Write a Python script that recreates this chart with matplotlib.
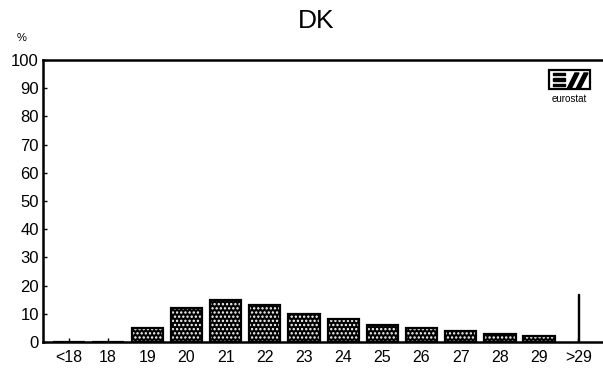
import matplotlib
matplotlib.use("Agg")
import matplotlib.pyplot as plt
from matplotlib.patches import Polygon

categories = ["<18", "18", "19", "20", "21", "22", "23", "24", "25", "26", "27", "28", "29", ">29"]
values = [0, 0, 5, 12, 15, 13, 10, 8, 6, 5, 4, 3, 2, 17]
widths = [0.8] * 13 + [0.04]
yticks = [0, 10, 20, 30, 40, 50, 60, 70, 80, 90, 100]

plt.rcParams['font.family'] = ['Liberation Sans', 'DejaVu Sans']
W, H = 603, 372
fig = plt.figure(figsize=(W / 100, H / 100), dpi=100)
ax = fig.add_axes([43 / W, 1 - 342 / H, (603 - 43) / W, (342 - 60) / H])

x = list(range(len(categories)))
plt.rcParams['hatch.linewidth'] = 1.1
ax.bar(x[:13], values[:13], width=widths[:13], color='black', edgecolor='white',
       hatch='....', linewidth=0)
ax.bar(x[:13], values[:13], width=widths[:13], fill=False, edgecolor='black', linewidth=1.6)
ax.bar(x[13:], values[13:], width=widths[13:], color='black', edgecolor='black', linewidth=1)

ax.set_xlim(-0.66, 13.63)
ax.set_ylim(0, 100)
ax.set_xticks(x)
ax.set_xticklabels(categories, fontsize=11.5)
ax.set_yticks(yticks)
ax.set_yticklabels([str(v) for v in yticks], fontsize=12)
ax.tick_params(axis='both', direction='in', length=3, width=1)
ax.tick_params(axis='x', pad=6)
ax.tick_params(axis='y', pad=3)
ax.spines['right'].set_visible(False)
for s in ['left', 'bottom', 'top']:
    ax.spines[s].set_linewidth(1.8)

fig.text(316 / W, 1 - 21 / H, "DK", fontsize=19, ha='center', va='center')
fig.text(22 / W, 1 - 38 / H, "%", fontsize=8, ha='center', va='center')

# eurostat logo, drawn in figure pixel coordinates
def P(px, py):
    return (px / W, 1 - py / H)

bx0, by0, bx1, by1 = 549, 70, 590, 89
fig.patches.append(Polygon([P(bx0, by0), P(bx1, by0), P(bx1, by1), P(bx0, by1)],
                           closed=True, transform=fig.transFigure, fill=False,
                           edgecolor='black', linewidth=1.6))
for yy in (74, 79.5, 85):
    fig.patches.append(Polygon([P(553, yy - 1.2), P(565, yy - 1.2), P(565, yy + 1.2), P(553, yy + 1.2)],
                               closed=True, transform=fig.transFigure, color='black'))
for sx in (567, 576):
    fig.patches.append(Polygon([P(sx, by1), P(sx + 4, by1), P(sx + 12, by0 + 3), P(sx + 8, by0 + 3)],
                               closed=True, transform=fig.transFigure, color='black'))
fig.text(569.5 / W, 1 - 99 / H, "eurostat", fontsize=7, ha='center', va='center')

fig.savefig("out.png", dpi=100)
